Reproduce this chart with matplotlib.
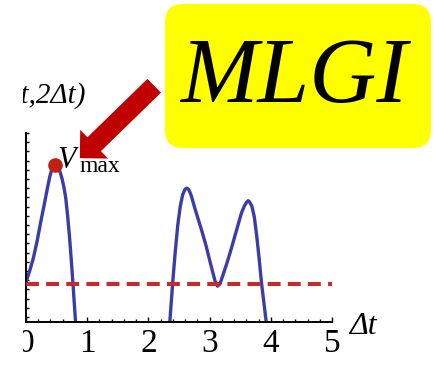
import matplotlib
matplotlib.use("Agg")
import matplotlib.pyplot as plt
import matplotlib.patches as mpatches
import matplotlib.transforms as mtransforms

# V(t, 2Δt) sampled along Δt, first lobe and the double-hump lobe
dt_a = [0.00, 0.06, 0.12, 0.18, 0.24, 0.30, 0.35, 0.39, 0.42, 0.45, 0.47,
        0.50, 0.53, 0.56, 0.59, 0.62, 0.65, 0.68, 0.71, 0.74, 0.77, 0.80,
        0.83]
v_a = [0.19, 0.25, 0.32, 0.41, 0.515, 0.615, 0.70, 0.765, 0.80, 0.82, 0.826,
       0.823, 0.81, 0.785, 0.75, 0.705, 0.645, 0.55, 0.44, 0.31, 0.17, 0.02,
       -0.12]

dt_b = [2.33, 2.36, 2.40, 2.44, 2.48, 2.52, 2.56, 2.60, 2.63, 2.66, 2.70,
        2.76, 2.82, 2.88, 2.94, 3.00, 3.05, 3.09, 3.13, 3.17, 3.22, 3.28,
        3.34, 3.40, 3.46, 3.52, 3.57, 3.61, 3.63, 3.65, 3.69, 3.73, 3.77,
        3.81, 3.85, 3.89, 3.93, 3.96]
v_b = [-0.12, 0.02, 0.20, 0.36, 0.50, 0.60, 0.665, 0.695, 0.70, 0.692, 0.66,
       0.59, 0.525, 0.46, 0.39, 0.31, 0.245, 0.195, 0.168, 0.18, 0.23, 0.29,
       0.355, 0.425, 0.495, 0.565, 0.605, 0.626, 0.632, 0.627, 0.603, 0.545,
       0.44, 0.315, 0.18, 0.07, -0.04, -0.12]

v_threshold = 0.18
x_ticks = [0, 1, 2, 3, 4, 5]
x_label = "Δt"
y_label = "V(t,2Δt)"
peak_label = ("V", "max")
badge = "MLGI"

SERIF = "Liberation Serif"
BLUE = "#3c3ca8"
RED = "#c62a2a"

W, H = 435, 367
fig = plt.figure(figsize=(W / 100, H / 100), dpi=100)
# pixel units (origin bottom-left) for the overlay pieces
px = mtransforms.Affine2D().scale(1 / 100) + fig.dpi_scale_trans

ax = fig.add_axes([26 / W, 45 / H, 306 / W, 189 / H])
ax.set_facecolor("none")
ax.plot(dt_a, v_a, color=BLUE, lw=2.4, solid_capstyle="butt",
        solid_joinstyle="round", zorder=2)
ax.plot(dt_b, v_b, color=BLUE, lw=2.4, solid_capstyle="butt",
        solid_joinstyle="round", zorder=2)
ax.axhline(v_threshold, color=RED, lw=2.9, dashes=(3.2, 1.8), zorder=3)

# mark the maximum of the first lobe
i_pk = max(range(len(v_a)), key=lambda i: v_a[i])
ax.plot(dt_a[i_pk], v_a[i_pk], "o", ms=10.5, color="#c0200f",
        mec="none", zorder=5, clip_on=False)

ax.set_xlim(0, 5)
ax.set_ylim(-0.027, 1.0)
ax.set_xticks(x_ticks)
ax.set_xticks([i * 0.2 for i in range(26)], minor=True)
ax.set_yticks([i * 0.05 for i in range(21)])
ax.set_yticklabels([])
ax.set_xticklabels([str(t) for t in x_ticks], family=SERIF, fontsize=24)
ax.tick_params(axis="x", which="major", direction="in", length=3.8,
               width=1.0, pad=5)
ax.tick_params(axis="x", which="minor", direction="in", length=2.2, width=1.0)
ax.tick_params(axis="y", direction="in", length=2.4, width=1.0)
for s in ("top", "right"):
    ax.spines[s].set_visible(False)
for s in ("left", "bottom"):
    ax.spines[s].set_linewidth(1.4)

# axis labels
fig.text(349, 33, x_label, family=SERIF, style="italic", fontsize=23,
         transform=px)
r = fig.canvas.get_renderer()
tmp = fig.text(0, 0, y_label[:2], family=SERIF, style="italic",
               fontsize=21, transform=px)
w_head = tmp.get_window_extent(r).width * 100 / fig.dpi
tmp.remove()
fig.text(21 - w_head, 264, y_label, family=SERIF, style="italic",
         fontsize=21, transform=px)

# V_max tag next to the dot
fig.text(57, 199, peak_label[0], family=SERIF, style="italic", fontsize=22,
         transform=px, zorder=3)
fig.text(80, 195, peak_label[1], family=SERIF, fontsize=17,
         transform=px, zorder=3)

# left edge trim
fig.add_artist(mpatches.Rectangle((0, 0), 23, H, fc="white", ec="none",
                                  transform=px, zorder=4))

# yellow badge with pointer arrow
fig.add_artist(mpatches.FancyBboxPatch(
    (165, 219), 266, 144, boxstyle="round,pad=0,rounding_size=18",
    fc="#ffff00", ec="none", transform=px, zorder=4))
fig.text(294, 265, badge, family=SERIF, style="italic", fontsize=67,
         ha="center", transform=px, zorder=6)
fig.add_artist(mpatches.FancyArrow(
    154.8, 281.8, -75.8, -73.8, width=21, head_width=44, head_length=22,
    length_includes_head=True, fc="#c00000", ec="white", lw=1.2,
    transform=px, zorder=5))

fig.savefig("out.png", dpi=100)
